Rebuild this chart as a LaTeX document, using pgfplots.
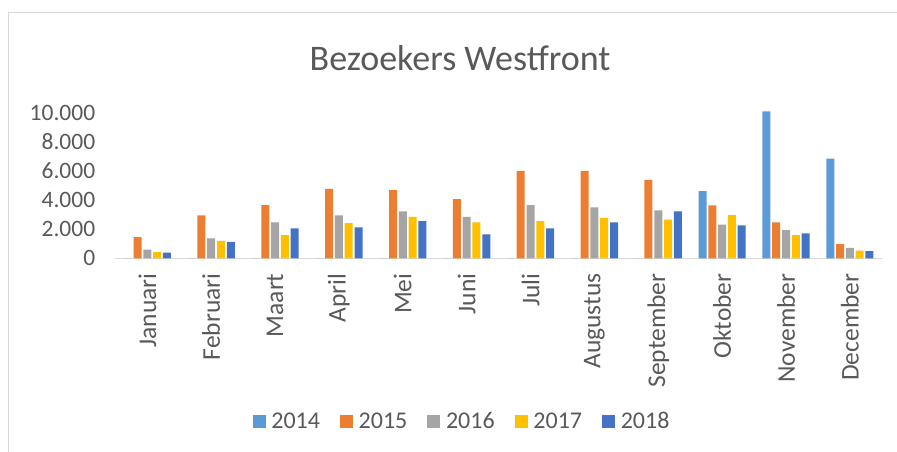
\documentclass[border=0pt]{standalone}
\usepackage{pgfplots}
\pgfplotsset{compat=1.18}
\usepackage{pgfplotstable}
\usepackage{fontspec}
\setmainfont{Carlito}
\definecolor{c14}{RGB}{91,155,213}
\definecolor{c15}{RGB}{237,125,49}
\definecolor{c16}{RGB}{165,165,165}
\definecolor{c17}{RGB}{255,192,0}
\definecolor{c18}{RGB}{68,114,196}
\definecolor{txt}{RGB}{89,89,89}
\definecolor{frame}{RGB}{217,217,217}
\pgfplotstableread{
x a b c d e
0 0 1460 590 430 390
1 0 2950 1370 1190 1120
2 0 3660 2470 1600 2060
3 0 4760 2950 2420 2130
4 0 4690 3230 2840 2560
5 0 4070 2840 2470 1650
6 0 6000 3660 2560 2060
7 0 6000 3500 2770 2470
8 0 5380 3300 2650 3230
9 4620 3640 2310 2970 2270
10 10100 2470 1940 1600 1720
11 6840 980 710 520 500
}\datatable
\begin{document}
\begin{tikzpicture}[x=1pt,y=1pt]
\useasboundingbox (0,0) rectangle (897,452);
\draw[frame, line width=1.5pt] (8.5,0) -- (8.5,439.5) -- (897,439.5);
\node[anchor=base, text=txt, font=\fontsize{36}{40}\selectfont, inner sep=0pt] at (460,381) {Bezoekers Westfront};
\begin{axis}[
  at={(115.4pt,193.7pt)}, anchor=south west,
  scale only axis, width=766.4pt, height=148.5pt,
  xmin=-0.5, xmax=11.5, ymin=0, ymax=10200,
  ybar=1.8pt, bar width=8pt,
  axis x line*=bottom, axis y line*=left,
  x axis line style={draw=frame, line width=1.5pt, -},
  y axis line style={draw=none},
  major tick length=0pt,
  xtick=data,
  xticklabels={Januari,Februari,Maart,April,Mei,Juni,Juli,Augustus,September,Oktober,November,December},
  ytick={0,2000,4000,6000,8000,10000},
  scaled y ticks=false,
  /pgf/number format/.cd, fixed, 1000 sep={.}, assume math mode=true,
  /pgfplots/.cd,
  yticklabel style={text=txt, font=\fontsize{23.5}{28}\selectfont, anchor=east, inner sep=0pt, xshift=-20pt},
  xticklabel style={text=txt, font=\fontsize{25.5}{30}\selectfont, rotate=90, anchor=east, inner xsep=15pt, inner ysep=0pt},
  legend columns=5,
  legend style={at={(0.451,-1.096)}, anchor=center, draw=none, fill=none,
    font=\fontsize{24}{28}\selectfont, text=txt,
    nodes={inner xsep=0pt},
    /tikz/every odd column/.append style={column sep=5.7pt},
    /tikz/every even column/.append style={column sep=20pt}},
  legend image code/.code={\fill[#1,draw=none] (0pt,-6.5pt) rectangle (13pt,6.5pt);},
  clip=false,
]
\addplot[fill=c14, draw=none] table[x=x,y=a] {\datatable};
\addplot[fill=c15, draw=none] table[x=x,y=b] {\datatable};
\addplot[fill=c16, draw=none] table[x=x,y=c] {\datatable};
\addplot[fill=c17, draw=none] table[x=x,y=d] {\datatable};
\addplot[fill=c18, draw=none] table[x=x,y=e] {\datatable};
\legend{2014,2015,2016,2017,2018}
\end{axis}
\end{tikzpicture}
\end{document}
